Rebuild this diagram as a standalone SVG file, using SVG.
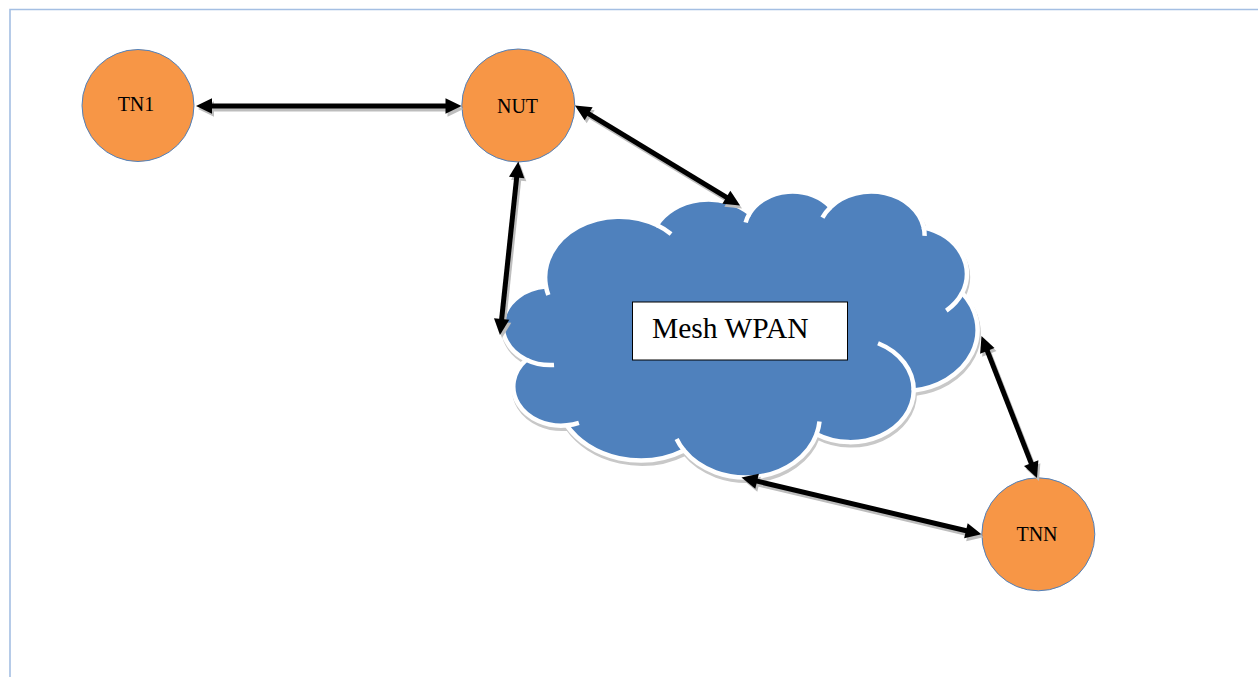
<svg xmlns="http://www.w3.org/2000/svg" xmlns:xlink="http://www.w3.org/1999/xlink" width="1258" height="677" viewBox="0 0 1258 677">
  <style>
    .node { fill: #F79646; stroke: #4F81BD; stroke-width: 1; }
    .lbl { font-family: "Liberation Serif", "Times New Roman", serif; font-size: 20px; fill: #000; text-anchor: middle; }
    .link { stroke: #000; stroke-width: 5; fill: none; marker-start: url(#head); marker-end: url(#head); }
    .link-sh { stroke: #bdbdbd; stroke-width: 5; fill: none; marker-start: url(#headSh); marker-end: url(#headSh); }
    .lobe { fill: none; stroke: #fff; stroke-width: 4.5; }
  </style>
  <defs>
    <marker id="head" markerUnits="userSpaceOnUse" markerWidth="16" markerHeight="16" refX="8" refY="8" orient="auto-start-reverse" overflow="visible">
      <path d="M0,0.3 L16,8 L0,15.7 Z" fill="#000"/>
    </marker>
    <marker id="headSh" markerUnits="userSpaceOnUse" markerWidth="16" markerHeight="16" refX="8" refY="8" orient="auto-start-reverse" overflow="visible">
      <path d="M0,0.3 L16,8 L0,15.7 Z" fill="#bdbdbd"/>
    </marker>
    <!-- cloud outline in a 43200 x 43200 shape space -->
    <path id="cloudShape" vector-effect="non-scaling-stroke" d="M3900,14370 A6753,9190 0 0 1 14004.7,5201.7 A5333,7267 0 0 1 22455.6,3432.1 A4365,5945 0 0 1 29832.6,2480.8 A4857,6595 0 0 1 38317.8,5576 A5333,7273 0 0 1 41818,15459.9 A6775,9220 0 0 1 37403.9,30203.3 A5785,7867 0 0 1 28555.7,36813.6 A6752,9215 0 0 1 16480.1,39264.6 A7720,10543 0 0 1 5804.4,35470.5 A4360,5918 0 0 1 2113.1,25548.7 A4345,5945 0 0 1 3863.1,14505 Z"/>
  </defs>

  <rect x="0" y="0" width="1258" height="677" fill="#fff"/>

  <!-- page frame -->
  <path d="M10,677 V9.5 H1258" fill="none" stroke="#a4bfe3" stroke-width="1.6"/>

  <!-- cloud -->
  <g id="mesh-wpan">
    <g transform="translate(504,193.8) scale(0.010981,0.006618)">
      <use xlink:href="#cloudShape" fill="#c8c8c8" stroke="#c8c8c8" stroke-width="4.5"/>
    </g>
    <g transform="translate(503,190.6) scale(0.010981,0.006618)">
      <use xlink:href="#cloudShape" fill="#4F81BD" stroke="#fff" stroke-width="4.5"/>
      <g class="lobe">
        <path vector-effect="non-scaling-stroke" d="M4646.2,26345.6 A4345,5945 0 0 1 2113.1,25548.7"/>
        <path vector-effect="non-scaling-stroke" d="M6913,35088.9 A4360,5918 0 0 1 5804.4,35470.5"/>
        <path vector-effect="non-scaling-stroke" d="M16480.1,39264.6 A6752,9215 0 0 1 15812.2,37524.5"/>
        <path vector-effect="non-scaling-stroke" d="M28822.3,34904.4 A6752,9215 0 0 1 28555.7,36813.6"/>
        <path vector-effect="non-scaling-stroke" d="M34153,23068 A5785,7867 0 0 1 37403.9,30203.3"/>
        <path vector-effect="non-scaling-stroke" d="M41818,15459.9 A5333,7273 0 0 1 40372.2,18133.2"/>
        <path vector-effect="non-scaling-stroke" d="M38317.8,5576 A4857,6595 0 0 1 38394.2,6839.6"/>
        <path vector-effect="non-scaling-stroke" d="M29090.7,4093.1 A4857,6595 0 0 1 29832.6,2480.8"/>
        <path vector-effect="non-scaling-stroke" d="M22096.4,4821.3 A4365,5945 0 0 1 22455.6,3432.1"/>
        <path vector-effect="non-scaling-stroke" d="M14004.7,5201.7 A6753,9190 0 0 1 15305.1,6550.6"/>
        <path vector-effect="non-scaling-stroke" d="M4126.8,15788.7 A6753,9190 0 0 1 3900,14370"/>
      </g>
    </g>
    <rect x="632.5" y="302" width="215" height="58" fill="#fff" stroke="#000" stroke-width="1"/>
    <text x="652" y="338.3" font-family="'Liberation Serif', 'Times New Roman', serif" font-size="29.5" fill="#000">Mesh WPAN</text>
  </g>

  <!-- nodes -->
  <g id="tn1">
    <circle class="node" cx="138" cy="105.5" r="56"/>
    <text class="lbl" x="136" y="111">TN1</text>
  </g>
  <g id="nut">
    <circle class="node" cx="518.3" cy="105.5" r="56.5"/>
    <text class="lbl" x="517.5" y="112.5">NUT</text>
  </g>
  <g id="tnn">
    <circle class="node" cx="1038.3" cy="534.3" r="56.5"/>
    <text class="lbl" x="1037" y="540.5">TNN</text>
  </g>

  <!-- connectors -->
  <g id="connectors">
    <g transform="translate(2,3)">
      <line class="link-sh" x1="204" y1="106" x2="453.5" y2="106"/>
      <line class="link-sh" x1="581.8" y1="109.6" x2="733.2" y2="201.4"/>
      <line class="link-sh" x1="517.5" y1="169.5" x2="500.8" y2="327"/>
      <line class="link-sh" x1="984.4" y1="343.4" x2="1034.1" y2="470.6"/>
      <line class="link-sh" x1="749.3" y1="479.3" x2="973.7" y2="532.5"/>
    </g>
    <line class="link" x1="204" y1="106" x2="453.5" y2="106"/>
    <line class="link" x1="581.8" y1="109.6" x2="733.2" y2="201.4"/>
    <line class="link" x1="517.5" y1="169.5" x2="500.8" y2="327"/>
    <line class="link" x1="984.4" y1="343.4" x2="1034.1" y2="470.6"/>
    <line class="link" x1="749.3" y1="479.3" x2="973.7" y2="532.5"/>
  </g>
</svg>
